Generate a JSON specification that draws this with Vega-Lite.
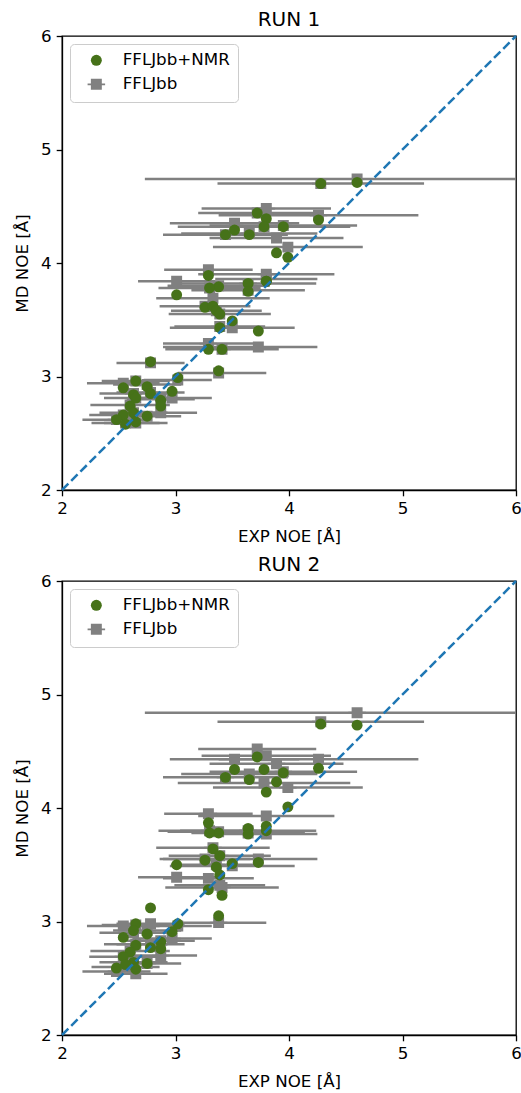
{
  "$schema": "https://vega.github.io/schema/vega-lite/v6.json",
  "padding": {"left": 13, "top": 9, "right": 0, "bottom": 5},
  "spacing": 8,
  "config": {
    "font": "DejaVu Sans",
    "view": {"stroke": "black", "strokeWidth": 1.3},
    "axis": {"grid": false, "domainColor": "black", "domainWidth": 1.3, "tickColor": "black", "tickSize": 5.8, "tickWidth": 1.3, "labelFontSize": 16.7, "labelColor": "black", "titleFontSize": 16.7, "titleFontWeight": "normal", "titleColor": "black", "labelPadding": 5, "labelFlush": false, "format": "d"},
    "axisY": {"titlePadding": 9},
    "axisX": {"titlePadding": 11},
    "title": {"fontSize": 20, "fontWeight": "normal", "color": "black", "offset": -2},
    "legend": {"orient": "top-left", "offset": 8, "padding": 8, "strokeColor": "#cccccc", "fillColor": "rgba(255,255,255,0.8)", "cornerRadius": 4, "labelFontSize": 16.7, "labelColor": "black", "symbolSize": 120, "symbolOffset": 10, "labelOffset": 18, "rowPadding": 6, "symbolStrokeWidth": 0}
  },
  "datasets": {
    "noe": [
      {"exp": 4.60, "lo": 2.73, "hi": 6.47, "ff1": 4.74, "nmr1": 4.71, "ff2": 4.84, "nmr2": 4.73},
      {"exp": 4.28, "lo": 3.37, "hi": 5.19, "ff1": 4.70, "nmr1": 4.70, "ff2": 4.76, "nmr2": 4.74},
      {"exp": 4.26, "lo": 3.38, "hi": 5.14, "ff1": 4.42, "nmr1": 4.38, "ff2": 4.43, "nmr2": 4.35},
      {"exp": 3.99, "lo": 3.33, "hi": 4.65, "ff1": 4.14, "nmr1": 4.05, "ff2": 4.18, "nmr2": 4.01},
      {"exp": 3.95, "lo": 3.30, "hi": 4.60, "ff1": 4.33, "nmr1": 4.32, "ff2": 4.32, "nmr2": 4.31},
      {"exp": 3.89, "lo": 3.30, "hi": 4.48, "ff1": 4.22, "nmr1": 4.09, "ff2": 4.39, "nmr2": 4.23},
      {"exp": 3.80, "lo": 3.23, "hi": 4.37, "ff1": 4.48, "nmr1": 4.39, "ff2": 4.46, "nmr2": 4.14},
      {"exp": 3.78, "lo": 3.02, "hi": 4.54, "ff1": 4.32, "nmr1": 4.32, "ff2": 4.22, "nmr2": 4.34},
      {"exp": 3.72, "lo": 3.20, "hi": 4.24, "ff1": 4.44, "nmr1": 4.44, "ff2": 4.52, "nmr2": 4.45},
      {"exp": 3.65, "lo": 3.05, "hi": 4.25, "ff1": 4.26, "nmr1": 4.25, "ff2": 4.30, "nmr2": 4.25},
      {"exp": 3.52, "lo": 2.95, "hi": 4.09, "ff1": 4.35, "nmr1": 4.29, "ff2": 4.43, "nmr2": 4.34},
      {"exp": 3.44, "lo": 2.89, "hi": 3.99, "ff1": 4.25, "nmr1": 4.25, "ff2": 4.27, "nmr2": 4.27},
      {"exp": 3.80, "lo": 3.20, "hi": 4.40, "ff1": 3.90, "nmr1": 3.84, "ff2": 3.93, "nmr2": 3.84},
      {"exp": 3.80, "lo": 3.35, "hi": 4.25, "ff1": 3.86, "nmr1": 3.84, "ff2": 3.77, "nmr2": 3.80},
      {"exp": 3.64, "lo": 3.04, "hi": 4.24, "ff1": 3.82, "nmr1": 3.82, "ff2": 3.80, "nmr2": 3.82},
      {"exp": 3.64, "lo": 3.14, "hi": 4.14, "ff1": 3.76, "nmr1": 3.75, "ff2": 3.78, "nmr2": 3.77},
      {"exp": 3.38, "lo": 2.93, "hi": 3.83, "ff1": 3.80, "nmr1": 3.79, "ff2": 3.79, "nmr2": 3.78},
      {"exp": 3.30, "lo": 2.85, "hi": 3.75, "ff1": 3.78, "nmr1": 3.78, "ff2": 3.80, "nmr2": 3.78},
      {"exp": 3.29, "lo": 2.90, "hi": 3.68, "ff1": 3.94, "nmr1": 3.89, "ff2": 3.95, "nmr2": 3.87},
      {"exp": 3.01, "lo": 2.67, "hi": 3.35, "ff1": 3.84, "nmr1": 3.72, "ff2": 3.39, "nmr2": 3.50},
      {"exp": 3.26, "lo": 2.86, "hi": 3.66, "ff1": 3.62, "nmr1": 3.61, "ff2": 3.55, "nmr2": 3.54},
      {"exp": 3.33, "lo": 2.83, "hi": 3.83, "ff1": 3.69, "nmr1": 3.62, "ff2": 3.65, "nmr2": 3.64},
      {"exp": 3.36, "lo": 2.96, "hi": 3.76, "ff1": 3.58, "nmr1": 3.58, "ff2": 3.50, "nmr2": 3.48},
      {"exp": 3.39, "lo": 2.94, "hi": 3.84, "ff1": 3.55, "nmr1": 3.55, "ff2": 3.58, "nmr2": 3.58},
      {"exp": 3.50, "lo": 2.95, "hi": 4.05, "ff1": 3.43, "nmr1": 3.49, "ff2": 3.49, "nmr2": 3.51},
      {"exp": 3.39, "lo": 2.99, "hi": 3.79, "ff1": 3.44, "nmr1": 3.43, "ff2": 3.32, "nmr2": 3.41},
      {"exp": 3.73, "lo": 2.89, "hi": 4.25, "ff1": 3.26, "nmr1": 3.40, "ff2": 3.55, "nmr2": 3.52},
      {"exp": 3.29, "lo": 2.89, "hi": 3.69, "ff1": 3.29, "nmr1": 3.24, "ff2": 3.38, "nmr2": 3.28},
      {"exp": 3.41, "lo": 2.91, "hi": 3.91, "ff1": 3.24, "nmr1": 3.24, "ff2": 3.30, "nmr2": 3.23},
      {"exp": 2.78, "lo": 2.48, "hi": 3.08, "ff1": 3.12, "nmr1": 3.13, "ff2": 2.98, "nmr2": 3.12},
      {"exp": 3.38, "lo": 3.02, "hi": 3.80, "ff1": 3.03, "nmr1": 3.05, "ff2": 2.99, "nmr2": 3.05},
      {"exp": 3.02, "lo": 2.72, "hi": 3.32, "ff1": 2.97, "nmr1": 2.99, "ff2": 2.96, "nmr2": 2.98},
      {"exp": 2.65, "lo": 2.35, "hi": 2.95, "ff1": 2.96, "nmr1": 2.96, "ff2": 2.97, "nmr2": 2.98},
      {"exp": 2.54, "lo": 2.22, "hi": 2.86, "ff1": 2.94, "nmr1": 2.90, "ff2": 2.96, "nmr2": 2.86},
      {"exp": 2.75, "lo": 2.45, "hi": 3.05, "ff1": 2.93, "nmr1": 2.91, "ff2": 2.92, "nmr2": 2.89},
      {"exp": 2.97, "lo": 2.62, "hi": 3.32, "ff1": 2.81, "nmr1": 2.87, "ff2": 2.85, "nmr2": 2.91},
      {"exp": 2.63, "lo": 2.33, "hi": 2.93, "ff1": 2.85, "nmr1": 2.84, "ff2": 2.90, "nmr2": 2.92},
      {"exp": 2.78, "lo": 2.48, "hi": 3.08, "ff1": 2.86, "nmr1": 2.85, "ff2": 2.80, "nmr2": 2.77},
      {"exp": 2.65, "lo": 2.37, "hi": 2.93, "ff1": 2.81, "nmr1": 2.81, "ff2": 2.80, "nmr2": 2.79},
      {"exp": 2.87, "lo": 2.57, "hi": 3.17, "ff1": 2.80, "nmr1": 2.79, "ff2": 2.83, "nmr2": 2.82},
      {"exp": 2.87, "lo": 2.55, "hi": 3.19, "ff1": 2.68, "nmr1": 2.74, "ff2": 2.70, "nmr2": 2.76},
      {"exp": 2.60, "lo": 2.25, "hi": 2.95, "ff1": 2.75, "nmr1": 2.74, "ff2": 2.74, "nmr2": 2.73},
      {"exp": 2.63, "lo": 2.33, "hi": 2.93, "ff1": 2.68, "nmr1": 2.68, "ff2": 2.64, "nmr2": 2.64},
      {"exp": 2.54, "lo": 2.24, "hi": 2.84, "ff1": 2.66, "nmr1": 2.66, "ff2": 2.69, "nmr2": 2.69},
      {"exp": 2.75, "lo": 2.45, "hi": 3.05, "ff1": 2.65, "nmr1": 2.65, "ff2": 2.63, "nmr2": 2.63},
      {"exp": 2.48, "lo": 2.18, "hi": 2.78, "ff1": 2.62, "nmr1": 2.62, "ff2": 2.56, "nmr2": 2.59},
      {"exp": 2.56, "lo": 2.26, "hi": 2.86, "ff1": 2.59, "nmr1": 2.58, "ff2": 2.60, "nmr2": 2.62},
      {"exp": 2.65, "lo": 2.37, "hi": 2.93, "ff1": 2.59, "nmr1": 2.60, "ff2": 2.54, "nmr2": 2.58}
    ],
    "diag": [{"d": 2}, {"d": 6}]
  },
  "resolve": {"scale": {"color": "independent", "shape": "independent"}, "legend": {"color": "independent", "shape": "independent"}},
  "vconcat": [
    {
      "title": "RUN 1",
      "width": 454,
      "height": 454,
      "layer": [
        {
          "data": {"name": "noe"},
          "mark": {"type": "rule", "color": "#808080", "strokeWidth": 2.5, "clip": true},
          "encoding": {
            "x": {"field": "lo", "type": "quantitative", "scale": {"domain": [2, 6], "nice": false, "zero": false}, "axis": {"values": [2, 3, 4, 5, 6], "title": "EXP NOE [Å]"}},
            "x2": {"field": "hi"},
            "y": {"field": "ff1", "type": "quantitative", "scale": {"domain": [2, 6], "nice": false, "zero": false}, "axis": {"values": [2, 3, 4, 5, 6], "title": "MD NOE [Å]"}}
          }
        },
        {
          "data": {"name": "noe"},
          "transform": [{"fold": ["ff1", "nmr1"], "as": ["k", "md"]}],
          "mark": {"type": "point", "filled": true, "opacity": 1, "size": 120, "clip": true},
          "encoding": {
            "x": {"field": "exp", "type": "quantitative"},
            "y": {"field": "md", "type": "quantitative"},
            "order": {"field": "k", "sort": "ascending"},
            "color": {"field": "k", "type": "nominal", "scale": {"domain": ["nmr1", "ff1"], "range": ["#467219", "#808080"]}, "legend": {"title": null, "labelExpr": "datum.label == 'nmr1' ? 'FFLJbb+NMR' : 'FFLJbb'"}},
            "shape": {"field": "k", "type": "nominal", "scale": {"domain": ["nmr1", "ff1"], "range": ["circle", "M-1,-1H1V1H-1Z M-1.6,-0.16H1.6V0.16H-1.6Z"]}, "legend": {"title": null, "labelExpr": "datum.label == 'nmr1' ? 'FFLJbb+NMR' : 'FFLJbb'"}}
          }
        },
        {
          "data": {"name": "diag"},
          "mark": {"type": "line", "color": "#1f77b4", "strokeWidth": 2.5, "strokeDash": [9, 4]},
          "encoding": {
            "x": {"field": "d", "type": "quantitative"},
            "y": {"field": "d", "type": "quantitative"}
          }
        }
      ]
    },
    {
      "title": "RUN 2",
      "width": 454,
      "height": 454,
      "layer": [
        {
          "data": {"name": "noe"},
          "mark": {"type": "rule", "color": "#808080", "strokeWidth": 2.5, "clip": true},
          "encoding": {
            "x": {"field": "lo", "type": "quantitative", "scale": {"domain": [2, 6], "nice": false, "zero": false}, "axis": {"values": [2, 3, 4, 5, 6], "title": "EXP NOE [Å]"}},
            "x2": {"field": "hi"},
            "y": {"field": "ff2", "type": "quantitative", "scale": {"domain": [2, 6], "nice": false, "zero": false}, "axis": {"values": [2, 3, 4, 5, 6], "title": "MD NOE [Å]"}}
          }
        },
        {
          "data": {"name": "noe"},
          "transform": [{"fold": ["ff2", "nmr2"], "as": ["k", "md"]}],
          "mark": {"type": "point", "filled": true, "opacity": 1, "size": 120, "clip": true},
          "encoding": {
            "x": {"field": "exp", "type": "quantitative"},
            "y": {"field": "md", "type": "quantitative"},
            "order": {"field": "k", "sort": "ascending"},
            "color": {"field": "k", "type": "nominal", "scale": {"domain": ["nmr2", "ff2"], "range": ["#467219", "#808080"]}, "legend": {"title": null, "labelExpr": "datum.label == 'nmr2' ? 'FFLJbb+NMR' : 'FFLJbb'"}},
            "shape": {"field": "k", "type": "nominal", "scale": {"domain": ["nmr2", "ff2"], "range": ["circle", "M-1,-1H1V1H-1Z M-1.6,-0.16H1.6V0.16H-1.6Z"]}, "legend": {"title": null, "labelExpr": "datum.label == 'nmr2' ? 'FFLJbb+NMR' : 'FFLJbb'"}}
          }
        },
        {
          "data": {"name": "diag"},
          "mark": {"type": "line", "color": "#1f77b4", "strokeWidth": 2.5, "strokeDash": [9, 4]},
          "encoding": {
            "x": {"field": "d", "type": "quantitative"},
            "y": {"field": "d", "type": "quantitative"}
          }
        }
      ]
    }
  ]
}
